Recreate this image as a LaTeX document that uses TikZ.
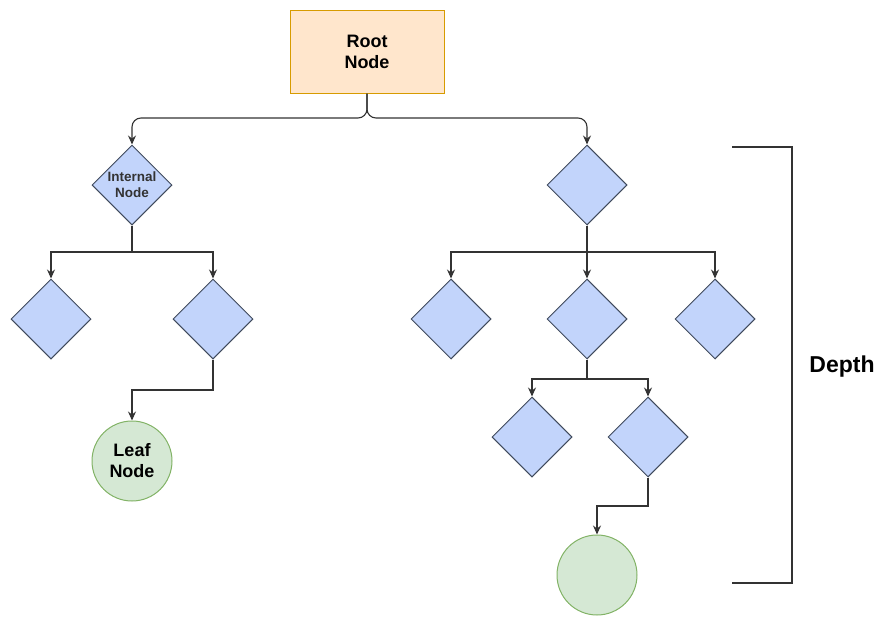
\documentclass[tikz,border=0pt]{standalone}
\usepackage{fontspec}
\setmainfont{Liberation Sans}
\usetikzlibrary{shapes.geometric,arrows.meta}
\definecolor{rootfill}{HTML}{FFE6CC}
\definecolor{rootline}{HTML}{D79B00}
\definecolor{dfill}{HTML}{C2D4FB}
\definecolor{dline}{HTML}{3F4A5C}
\definecolor{leaffill}{HTML}{D5E8D4}
\definecolor{leafline}{HTML}{82B366}
\definecolor{edgecol}{HTML}{333333}
\tikzset{
  rootbox/.style={draw=rootline, fill=rootfill, line width=1pt, minimum width=154pt, minimum height=83pt, inner sep=0pt, align=center, font=\bfseries\fontsize{18}{21}\selectfont},
  dnode/.style={diamond, shape aspect=1, draw=dline, fill=dfill, line width=1pt, minimum width=80pt, minimum height=80pt, inner sep=0pt, align=center, text=edgecol, font=\bfseries\fontsize{13.5}{16}\selectfont},
  leafnode/.style={circle, draw=leafline, fill=leaffill, line width=1pt, minimum size=80pt, inner sep=0pt, align=center, font=\bfseries\fontsize{18}{21}\selectfont},
  link/.style={draw=edgecol, line width=1.1pt, -{Stealth[length=9pt,width=8pt,inset=3pt]}},
}
\begin{document}
\begin{tikzpicture}[x=1pt,y=-1pt]
  \useasboundingbox (0,0) rectangle (880,616);

  % nodes
  \node[rootbox] (root) at (367,51.5) {Root\\Node};
  \node[dnode] (n1) at (132,185) {Internal\\Node};
  \node[dnode] (n2) at (587,185) {};
  \node[dnode] (a1) at (51,319) {};
  \node[dnode] (a2) at (213,319) {};
  \node[dnode] (b1) at (451,319) {};
  \node[dnode] (b2) at (587,319) {};
  \node[dnode] (b3) at (715,319) {};
  \node[leafnode] (leaf1) at (132,461) {Leaf\\Node};
  \node[dnode] (c1) at (532,437) {};
  \node[dnode] (c2) at (648,437) {};
  \node[leafnode] (leaf2) at (597,575) {};

  % branch points
  \coordinate (r) at (367,118);
  \coordinate (p1) at (132,252);
  \coordinate (p2) at (587,252);
  \coordinate (p3) at (213,390);
  \coordinate (p4) at (587,379);
  \coordinate (p5) at (648,506);

  % connectors
  \draw[link, rounded corners=9pt] (root.south) -- (r) -| (n1.north);
  \draw[link, rounded corners=9pt] (root.south) -- (r) -| (n2.north);

  \draw[link] (n1.south) -- (p1) -| (a1.north);
  \draw[link] (n1.south) -- (p1) -| (a2.north);
  \draw[link] (a2.south) -- (p3) -| (leaf1.north);

  \draw[link] (n2.south) -- (p2) -| (b1.north);
  \draw[link] (n2.south) -- (b2.north);
  \draw[link] (n2.south) -- (p2) -| (b3.north);

  \draw[link] (b2.south) -- (p4) -| (c1.north);
  \draw[link] (b2.south) -- (p4) -| (c2.north);
  \draw[link] (c2.south) -- (p5) -| (leaf2.north);

  % depth bracket
  \coordinate (bt) at (732,147);
  \coordinate (bb) at (732,583);
  \draw[draw=edgecol, line width=1.1pt] (bt) -- (792,147) -- (792,583) -- (bb);
  \node[font=\bfseries\fontsize{23}{27}\selectfont] (depth) at (842,367) {Depth};
\end{tikzpicture}
\end{document}
